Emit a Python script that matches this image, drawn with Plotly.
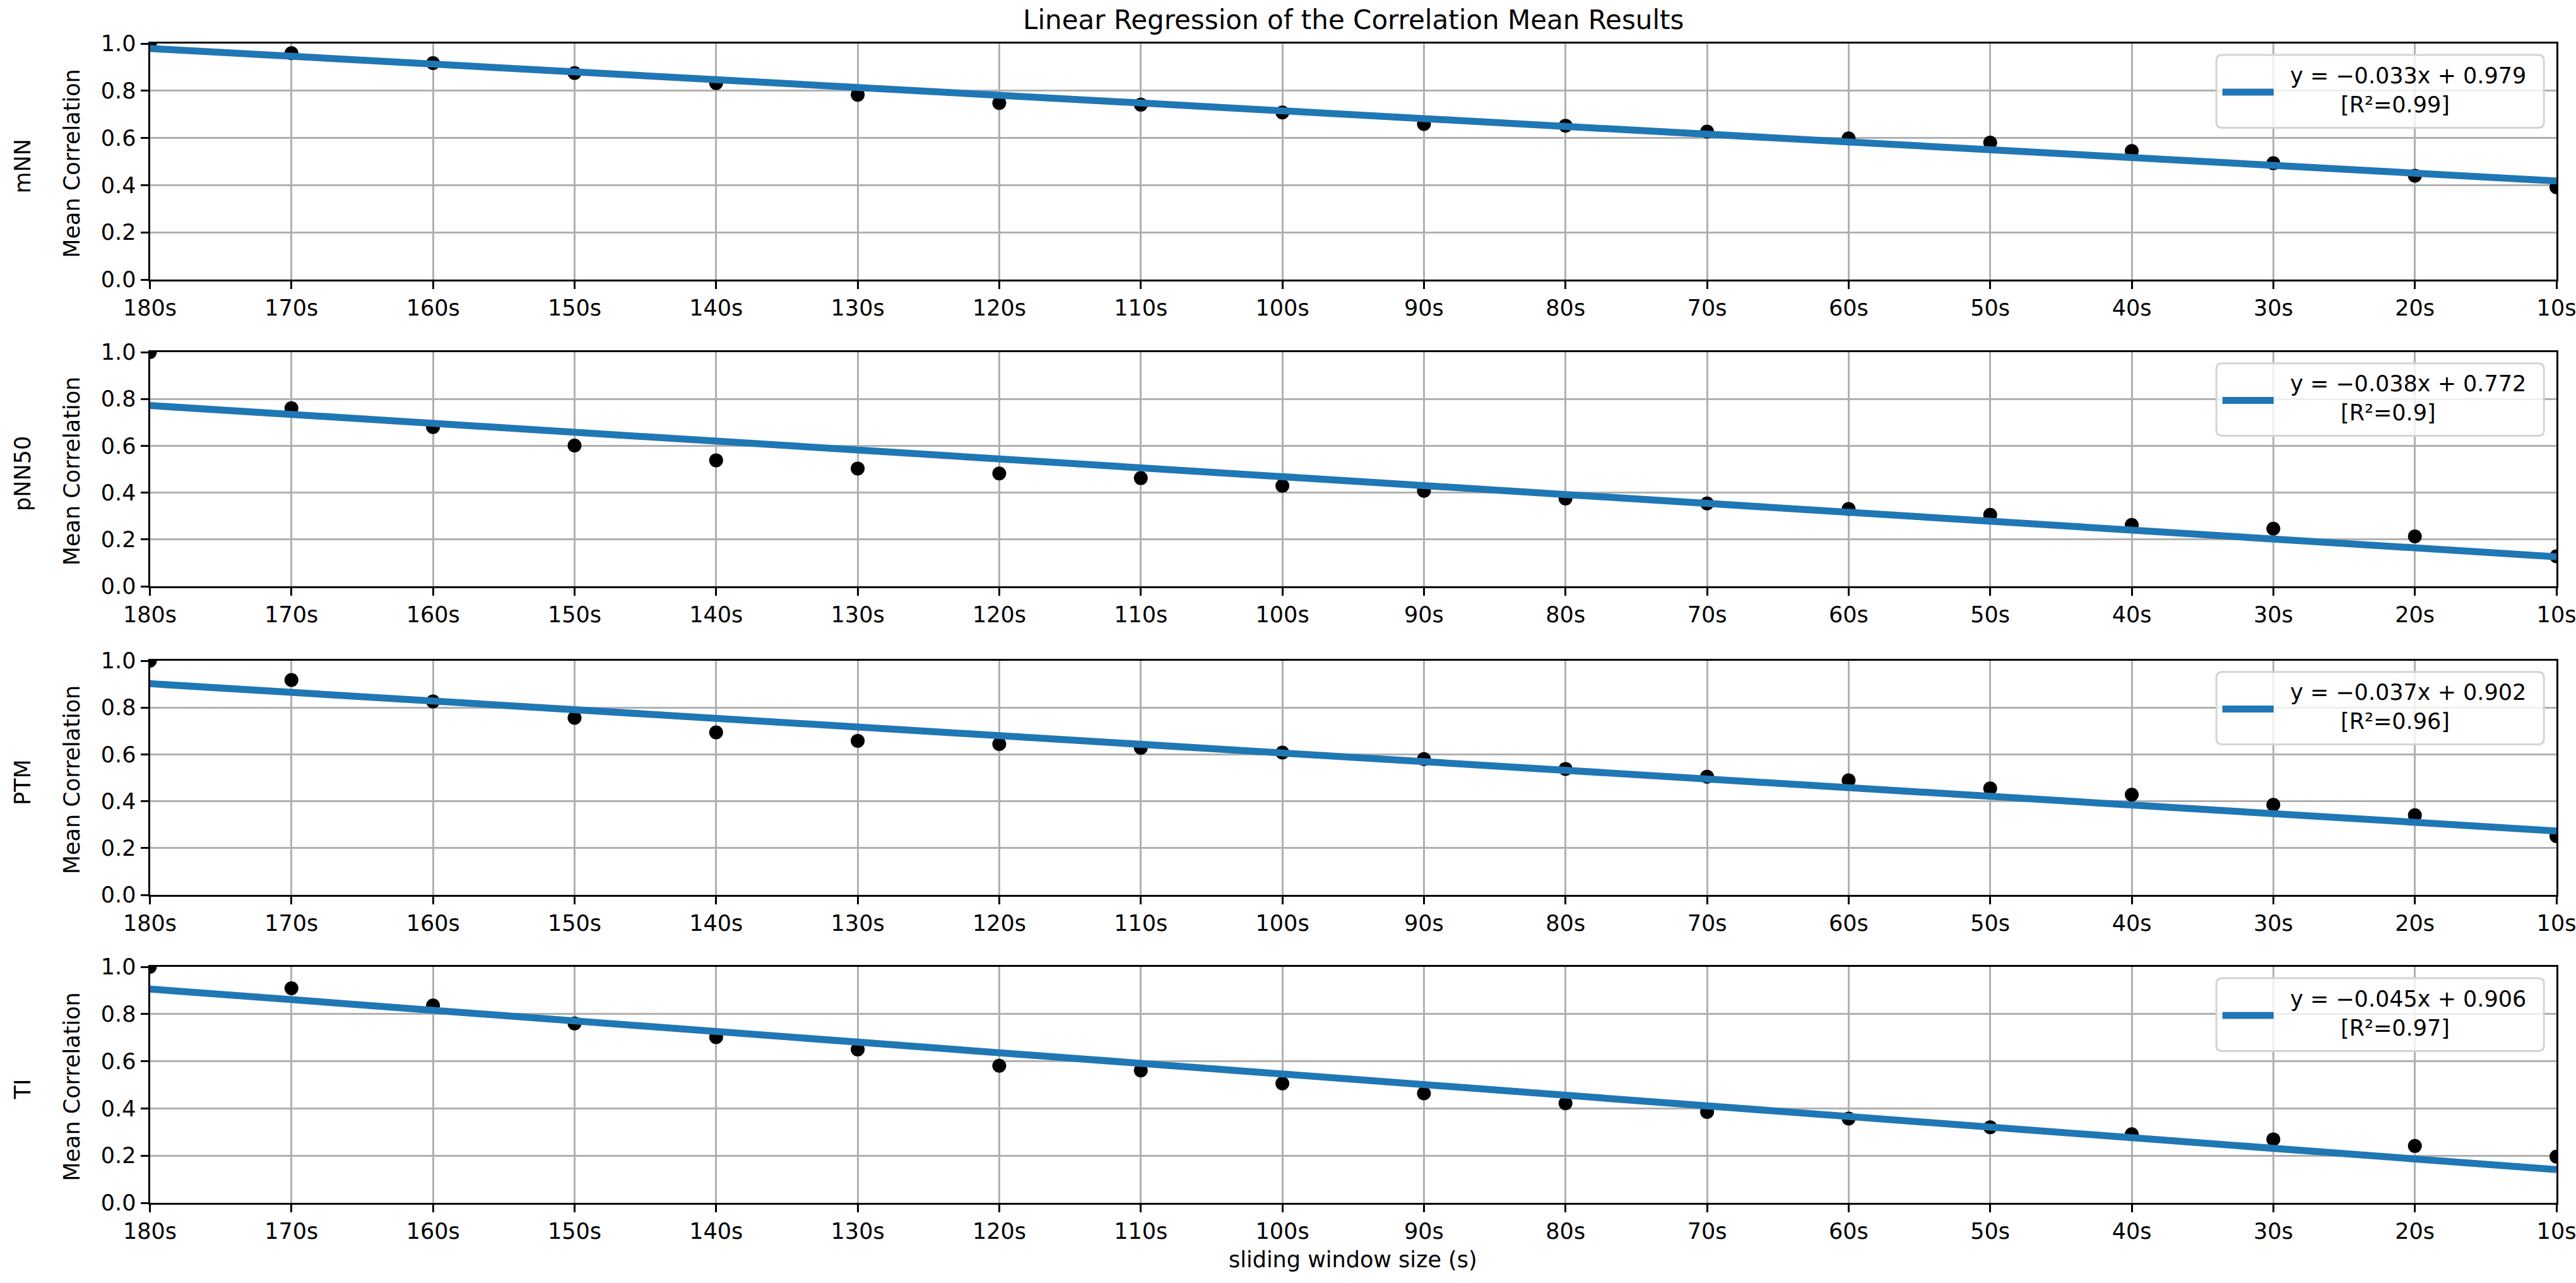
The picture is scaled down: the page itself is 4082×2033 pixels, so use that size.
import plotly.graph_objects as go

# ---------------- data ----------------
window_labels = ["180s", "170s", "160s", "150s", "140s", "130s", "120s", "110s", "100s",
                 "90s", "80s", "70s", "60s", "50s", "40s", "30s", "20s", "10s"]
metric_names = ["mNN", "pNN50", "PTM", "TI"]

mnn_corr = [1.0, 0.959, 0.917, 0.875, 0.832, 0.783, 0.748, 0.741, 0.708,
            0.659, 0.652, 0.627, 0.598, 0.580, 0.545, 0.493, 0.440, 0.391]
pnn50_corr = [1.0, 0.761, 0.680, 0.601, 0.538, 0.503, 0.482, 0.462, 0.429,
              0.408, 0.375, 0.354, 0.330, 0.305, 0.262, 0.246, 0.213, 0.128]
ptm_corr = [1.0, 0.918, 0.826, 0.756, 0.694, 0.658, 0.644, 0.628, 0.608,
            0.580, 0.538, 0.505, 0.489, 0.455, 0.428, 0.385, 0.340, 0.251]
ti_corr = [1.0, 0.909, 0.836, 0.760, 0.702, 0.650, 0.581, 0.561, 0.506,
           0.464, 0.422, 0.385, 0.357, 0.320, 0.291, 0.269, 0.241, 0.196]

fit_slopes = [-0.033, -0.038, -0.037, -0.045]
fit_intercepts = [0.979, 0.772, 0.902, 0.906]
fit_r2 = ["0.99", "0.9", "0.96", "0.97"]

y_ticks = [0.0, 0.2, 0.4, 0.6, 0.8, 1.0]

series = [mnn_corr, pnn50_corr, ptm_corr, ti_corr]

# ---------------- layout constants ----------------
W, H = 4082, 2033
FONT = "DejaVu Sans"
TICK_SIZE = 35
BLUE = "#1f77b4"
GRID = "#b0b0b0"

x_left_px, x_right_px = 237.5, 4051
panels_px = [(69, 443), (558, 929), (1047, 1418), (1532, 1906)]

x_domain = [x_left_px / W, x_right_px / W]

fig = go.Figure()
layout = dict(
    width=W, height=H, autosize=False,
    margin=dict(l=0, r=0, t=0, b=0, autoexpand=False),
    paper_bgcolor="white", plot_bgcolor="white",
    showlegend=False,
    font=dict(family=FONT, size=TICK_SIZE, color="black"),
)

annotations = []
shapes = []
xs = list(range(len(window_labels)))

for i, (name, vals) in enumerate(zip(metric_names, series)):
    sfx = "" if i == 0 else str(i + 1)
    xa, ya = "x" + sfx, "y" + sfx
    top_px, bot_px = panels_px[i]

    fig.add_trace(go.Scatter(
        x=xs, y=vals, mode="markers", xaxis=xa, yaxis=ya,
        marker=dict(color="black", size=22, line=dict(width=0)),
        hoverinfo="skip",
    ))
    fit_y = [fit_slopes[i] * x + fit_intercepts[i] for x in (xs[0], xs[-1])]
    fig.add_trace(go.Scatter(
        x=[xs[0], xs[-1]], y=fit_y, mode="lines", xaxis=xa, yaxis=ya,
        line=dict(color=BLUE, width=11),
        hoverinfo="skip",
    ))

    layout["xaxis" + sfx] = dict(
        domain=x_domain, anchor=ya, range=[0, len(xs) - 1],
        tickmode="array", tickvals=xs, ticktext=window_labels,
        showgrid=True, gridcolor=GRID, gridwidth=2.5,
        zeroline=False, showline=True, linecolor="black", linewidth=3, mirror=True,
        ticks="outside", ticklen=12, tickwidth=3, tickcolor="black",
        ticklabeloverflow="allow", automargin=False,
        tickfont=dict(family=FONT, size=TICK_SIZE, color="black"),
    )
    layout["yaxis" + sfx] = dict(
        domain=[1 - bot_px / H, 1 - top_px / H], anchor=xa, range=[0, 1],
        tickmode="array", tickvals=y_ticks, tickformat=".1f",
        showgrid=True, gridcolor=GRID, gridwidth=2.5,
        zeroline=False, showline=True, linecolor="black", linewidth=3, mirror=True,
        ticks="outside", ticklen=12, tickwidth=3, tickcolor="black",
        ticklabeloverflow="allow", automargin=False,
        tickfont=dict(family=FONT, size=TICK_SIZE, color="black"),
    )

    xd, yd = xa + " domain", ya + " domain"

    # y labels
    annotations.append(dict(text=name, xref="paper", yref=yd, x=36 / W, y=0.48,
                            textangle=-90, showarrow=False, xanchor="center", yanchor="middle",
                            font=dict(family=FONT, size=TICK_SIZE, color="black")))
    annotations.append(dict(text="Mean Correlation", xref="paper", yref=yd, x=114 / W, y=0.49,
                            textangle=-90, showarrow=False, xanchor="center", yanchor="middle",
                            font=dict(family=FONT, size=TICK_SIZE, color="black")))

    # legend box (rounded)
    x0, x1, y0, y1 = 0.8587, 0.9948, 0.643, 0.952
    ph = bot_px - top_px
    pw = x_right_px - x_left_px
    r = 9
    rx, ry = r / pw, r / ph
    path = (f"M {x0+rx},{y0} L {x1-rx},{y0} Q {x1},{y0} {x1},{y0+ry} "
            f"L {x1},{y1-ry} Q {x1},{y1} {x1-rx},{y1} "
            f"L {x0+rx},{y1} Q {x0},{y1} {x0},{y1-ry} "
            f"L {x0},{y0+ry} Q {x0},{y0} {x0+rx},{y0} Z")
    shapes.append(dict(type="path", xref=xd, yref=yd, path=path,
                       fillcolor="rgba(255,255,255,0.8)", line=dict(color="#d4d4d4", width=3),
                       layer="above"))
    shapes.append(dict(type="line", xref=xd, yref=yd, x0=0.8612, x1=0.8825, y0=0.794, y1=0.794,
                       line=dict(color=BLUE, width=11), layer="above"))
    slope_txt = f"{fit_slopes[i]:.3f}".replace("-", "\u2212")
    annotations.append(dict(text=f"y = {slope_txt}x + {fit_intercepts[i]:.3f}",
                            xref=xd, yref=yd, x=0.8888, y=0.864, xanchor="left", yanchor="middle",
                            showarrow=False, font=dict(family=FONT, size=TICK_SIZE, color="black")))
    annotations.append(dict(text=f"[R\u00b2={fit_r2[i]}]",
                            xref=xd, yref=yd, x=0.9098, y=0.741, xanchor="left", yanchor="middle",
                            showarrow=False, font=dict(family=FONT, size=TICK_SIZE, color="black")))

# title and x label
x_center = (x_left_px + x_right_px) / 2 / W
annotations.append(dict(text="Linear Regression of the Correlation Mean Results",
                        xref="paper", yref="paper", x=x_center, y=1 - 31.7 / H,
                        xanchor="center", yanchor="middle", showarrow=False,
                        font=dict(family=FONT, size=42, color="black")))
annotations.append(dict(text="sliding window size (s)",
                        xref="paper", yref="paper", x=x_center, y=1 - 1995.5 / H,
                        xanchor="center", yanchor="middle", showarrow=False,
                        font=dict(family=FONT, size=TICK_SIZE, color="black")))

layout["annotations"] = annotations
layout["shapes"] = shapes
fig.update_layout(**layout)

fig.write_html(
    "out.html",
    config={"displayModeBar": False},
    post_script="document.body.style.margin='0';document.body.style.overflow='hidden';",
)
